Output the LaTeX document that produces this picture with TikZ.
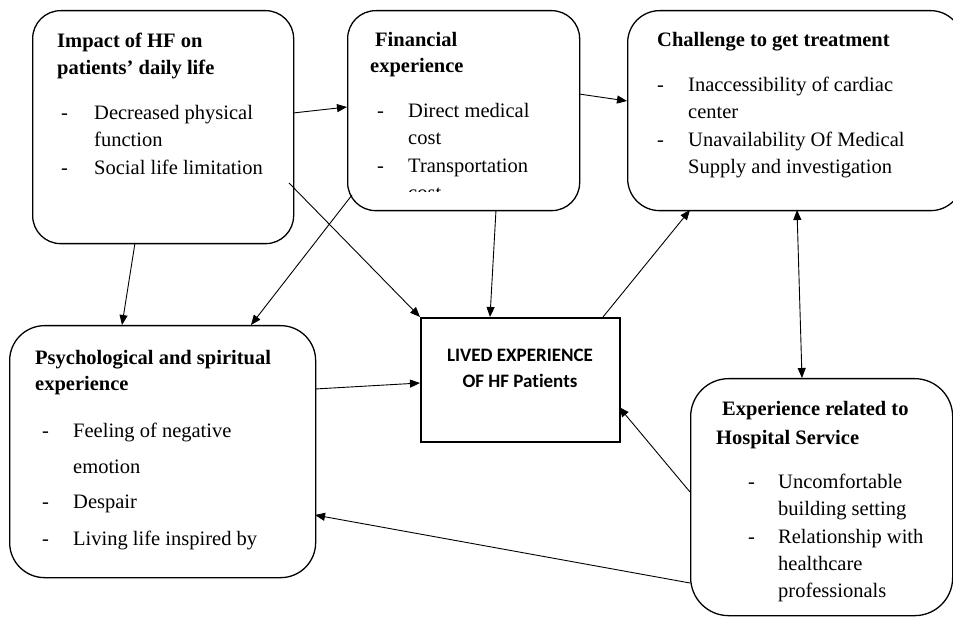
\documentclass[tikz,border=0pt]{standalone}
\usepackage{fontspec}
\setmainfont{Liberation Serif}
\newfontfamily\calib[Ligatures=NoCommon]{Carlito}
\usetikzlibrary{arrows.meta,calc}
\begin{document}
\begin{tikzpicture}[x=1pt,y=-1pt,
  box/.style={draw,line width=1.3pt,rounded corners=#1,inner sep=0pt,anchor=north west},
  txt/.style={anchor=base west,inner sep=0pt,font=\fontsize{20.5}{27}\selectfont},
  ttl/.style={anchor=base west,inner sep=0pt,font=\fontsize{20.5}{27}\selectfont\bfseries},
  ctr/.style={anchor=base,inner sep=0pt,font=\fontsize{19}{26}\selectfont\calib\bfseries},
  arr/.style={-{Triangle[length=10pt,width=8pt]},line width=0.9pt},
  darr/.style={{Triangle[length=10pt,width=8pt]}-{Triangle[length=10pt,width=8pt]},line width=0.9pt}]
\clip (0,0) rectangle (953,617);
\fill[white] (0,0) rectangle (953,617);

% boxes
\node[box=28pt,minimum width=261pt,minimum height=233pt] (impact) at (32,10) {};
\node[box=28pt,minimum width=232pt,minimum height=200pt] (fin) at (347,10) {};
\node[box=32pt,minimum width=335pt,minimum height=200pt] (chal) at (627,10) {};
\node[box=35pt,minimum width=306pt,minimum height=252pt] (psych) at (9,325) {};
\node[draw,line width=1.6pt,inner sep=0pt,anchor=north west,minimum width=199pt,minimum height=124pt] (core) at (420,317) {};
\node[box=38pt,minimum width=262pt,minimum height=237pt] (hosp) at (690,378) {};

% Impact text
\node[ttl] (t1a) at (57,48) {Impact of HF on};
\node[ttl] (t1b) at (57,75) {patients’ daily life};
\node[txt] (d1a) at (61,120) {-};
\node[txt] (l1a) at (94,120) {Decreased physical};
\node[txt] (l1b) at (94,147) {function};
\node[txt] (d1b) at (61,175) {-};
\node[txt] (l1c) at (94,175) {Social life limitation};

% Financial text
\node[ttl] (t2a) at (375,47) {Financial};
\node[ttl] (t2b) at (370,73) {experience};
\node[txt] (d2a) at (377,118) {-};
\node[txt] (l2a) at (408,118) {Direct medical};
\node[txt] (l2b) at (408,145) {cost};
\node[txt] (d2b) at (377,173) {-};
\node[txt] (l2c) at (408,173) {Transportation};
\begin{scope}
\clip (347,10) rectangle (579,192);
\node[txt] (l2d) at (408,200) {cost};
\end{scope}

% Challenge text
\node[ttl] (t3a) at (657,47) {Challenge to get treatment};
\node[txt] (d3a) at (657,92) {-};
\node[txt] (l3a) at (688,92) {Inaccessibility of cardiac};
\node[txt] (l3b) at (688,119) {center};
\node[txt] (d3b) at (657,147) {-};
\node[txt] (l3c) at (688,147) {Unavailability Of Medical};
\node[txt] (l3d) at (688,174) {Supply and investigation};

% Psych text
\node[ttl] (t4a) at (35,365) {Psychological and spiritual};
\node[ttl] (t4b) at (35,391) {experience};
\node[txt] (d4a) at (42,437) {-};
\node[txt] (l4a) at (73,437) {Feeling of negative};
\node[txt] (l4b) at (73,473) {emotion};
\node[txt] (d4b) at (42,508) {-};
\node[txt] (l4c) at (73,508) {Despair};
\node[txt] (d4c) at (42,545) {-};
\node[txt] (l4d) at (73,545) {Living life inspired by};

% Core text
\node[ctr] (c1) at (520,362) {LIVED EXPERIENCE};
\node[ctr] (c2) at (520,388) {OF HF Pat\kern0pt ients};

% Hospital text
\node[ttl] (t6a) at (722,416) {Experience related to};
\node[ttl] (t6b) at (716,444) {Hospital Service};
\node[txt] (d6a) at (748,488) {-};
\node[txt] (l6a) at (778,488) {Uncomfortable};
\node[txt] (l6b) at (778,515) {building setting};
\node[txt] (d6b) at (748,543) {-};
\node[txt] (l6c) at (778,543) {Relationship with};
\node[txt] (l6d) at (778,570) {healthcare};
\node[txt] (l6e) at (778,597) {professionals};

% connectors
\draw[arr] ($(impact.north west)+(261,103)$) -- ($(fin.north west)+(0,97)$);
\draw[arr] ($(fin.north west)+(232,84)$) -- ($(chal.north west)+(0,91)$);
\draw[arr] ($(impact.north west)+(103,233)$) -- ($(psych.north west)+(113,0)$);
\draw[arr] ($(impact.north west)+(257,173)$) -- (core.north west);
\draw[arr] ($(fin.north west)+(5,185)$) -- ($(psych.north west)+(242,0)$);
\draw[arr] ($(fin.north west)+(149,200)$) -- ($(core.north west)+(70,0)$);
\draw[arr] ($(core.north west)+(183,0)$) -- ($(chal.north west)+(63,200)$);
\draw[darr] ($(chal.north west)+(170,200)$) -- ($(hosp.north west)+(112,0)$);
\draw[arr] ($(psych.north west)+(306,64)$) -- ($(core.north west)+(0,66)$);
\draw[arr] ($(hosp.north west)+(0,114)$) -- ($(core.north west)+(199,90)$);
\draw[arr] ($(hosp.north west)+(0,205)$) -- ($(psych.north west)+(306,190)$);
\end{tikzpicture}
\end{document}
